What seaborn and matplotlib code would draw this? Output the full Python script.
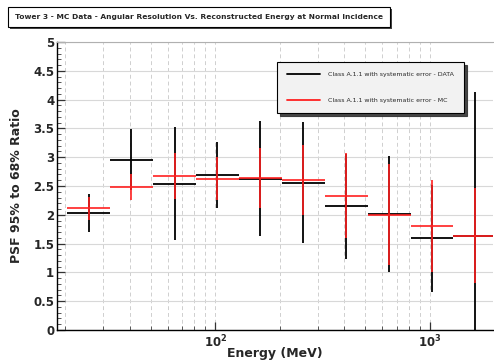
import matplotlib
matplotlib.use("Agg")
import matplotlib.pyplot as plt
import matplotlib.ticker as mticker
from matplotlib.lines import Line2D
from matplotlib.patches import Rectangle
import seaborn as sns
import pandas as pd
import numpy as np

# ---- data ----
energy = [25.7, 40.7, 64.6, 102.3, 162.2, 257.0, 407.4, 645.7, 1023.0, 1622.0]
bin_lo = [20.4, 32.4, 51.3, 81.3, 128.8, 204.2, 323.6, 512.9, 812.8, 1288.0]
bin_hi = [32.4, 51.3, 81.3, 128.8, 204.2, 323.6, 512.9, 812.8, 1288.0, 2042.0]
data_val = [2.03, 2.96, 2.54, 2.69, 2.63, 2.56, 2.15, 2.01, 1.59, 1.63]
data_err = [0.33, 0.53, 0.98, 0.58, 0.99, 1.05, 0.91, 1.01, 0.93, 2.50]
mc_val = [2.11, 2.48, 2.67, 2.63, 2.64, 2.60, 2.33, 2.00, 1.80, 1.64]
mc_err = [0.20, 0.22, 0.40, 0.38, 0.52, 0.61, 0.74, 0.88, 0.80, 0.82]
labels = ["Class A.1.1 with systematic error - DATA",
          "Class A.1.1 with systematic error - MC"]
title = "Tower 3 - MC Data - Angular Resolution Vs. Reconstructed Energy at Normal Incidence"

df = pd.DataFrame({"energy": energy, "lo": bin_lo, "hi": bin_hi,
                   "data": data_val, "data_err": data_err,
                   "mc": mc_val, "mc_err": mc_err})

sns.set_style("white")
plt.rcParams['font.family'] = ['DejaVu Sans']

W, H = 494, 360
fig = plt.figure(figsize=(W / 100, H / 100), dpi=100)
ax = fig.add_axes([57 / W, 1 - 330 / H, (493 - 57) / W, (330 - 42) / H])

xerr = [df["energy"] - df["lo"], df["hi"] - df["energy"]]
ax.errorbar(df["energy"], df["data"], yerr=df["data_err"], xerr=xerr,
            fmt="none", ecolor="black", elinewidth=1.3, capsize=0, zorder=3)
ax.errorbar(df["energy"], df["mc"], yerr=df["mc_err"], xerr=xerr,
            fmt="none", ecolor="#ff2020", elinewidth=1.2, capsize=0, zorder=4)

ax.set_xscale("log")
ax.set_xlim(18.3, 1970)
ax.set_ylim(0, 5)

ax.yaxis.set_major_locator(mticker.MultipleLocator(0.5))
ax.yaxis.set_minor_locator(mticker.MultipleLocator(0.1))
ax.yaxis.set_major_formatter(mticker.FuncFormatter(lambda v, p: f"{v:g}"))
ax.xaxis.set_major_locator(mticker.LogLocator(base=10))
ax.xaxis.set_minor_locator(mticker.LogLocator(base=10, subs=np.arange(2, 10)))
ax.xaxis.set_minor_formatter(mticker.NullFormatter())

ax.tick_params(axis="both", which="both", left=True, bottom=True,
               top=False, right=False)
ax.tick_params(axis="both", which="major", direction="in", length=6, width=0.9,
               color="#333333", labelsize=8.5)
ax.tick_params(axis="both", which="minor", direction="in", length=3, width=0.7,
               color="#555555")
ax.tick_params(axis="x", which="major", pad=3)
ax.tick_params(axis="y", which="major", pad=2)
for t in ax.get_yticklabels() + ax.get_xticklabels():
    t.set_fontweight("bold")

ax.grid(True, which="major", axis="y", color="#d8d8d8", lw=0.8, ls="-")
ax.grid(True, which="both", axis="x", color="#cfcfcf", lw=0.7, ls=(0, (4, 3)))
ax.set_axisbelow(True)

for s in ["left", "bottom"]:
    ax.spines[s].set_color("black")
    ax.spines[s].set_linewidth(1.0)
ax.spines["top"].set_color("#b0b0b0")
ax.spines["top"].set_linewidth(0.8)
ax.spines["right"].set_visible(False)

ax.set_ylabel("PSF 95% to 68% Ratio", fontsize=9, fontweight="bold")
ax.yaxis.set_label_coords(-(57 - 23) / 436, 0.5)
ax.set_xlabel("Energy (MeV)", fontsize=9, fontweight="bold", va="center")
ax.xaxis.set_label_coords(0.5, -(353 - 330) / 288)

handles = [Line2D([], [], color="black", lw=1.3),
           Line2D([], [], color="#ff2020", lw=1.3)]
leg = ax.legend(handles, labels, loc="upper left",
                bbox_to_anchor=((274 - 57) / 436, (330 - 59) / 288),
                fontsize=4.5, handlelength=5.3, handletextpad=1.3,
                labelspacing=3.2, borderpad=1.6, fancybox=False,
                shadow={"ox": 2, "oy": -2, "color": "#333333", "alpha": 0.9},
                frameon=True)
leg.get_frame().set_facecolor("#f2f2f2")
leg.get_frame().set_edgecolor("black")
leg.get_frame().set_linewidth(0.8)
leg.set_zorder(10)

# title box
fig.patches.append(Rectangle((10 / W, 1 - 29 / H), (390 - 8) / W, 20 / H,
                             transform=fig.transFigure, facecolor="#444444",
                             edgecolor="none", zorder=1))
fig.patches.append(Rectangle((8 / W, 1 - 27 / H), (390 - 8) / W, 20 / H,
                             transform=fig.transFigure, facecolor="white",
                             edgecolor="black", lw=0.8, zorder=2))
fig.text(15 / W, 1 - 17.5 / H, title, fontsize=5.4, fontweight="bold",
         ha="left", va="center", zorder=3)

fig.savefig("out.png", dpi=100)
